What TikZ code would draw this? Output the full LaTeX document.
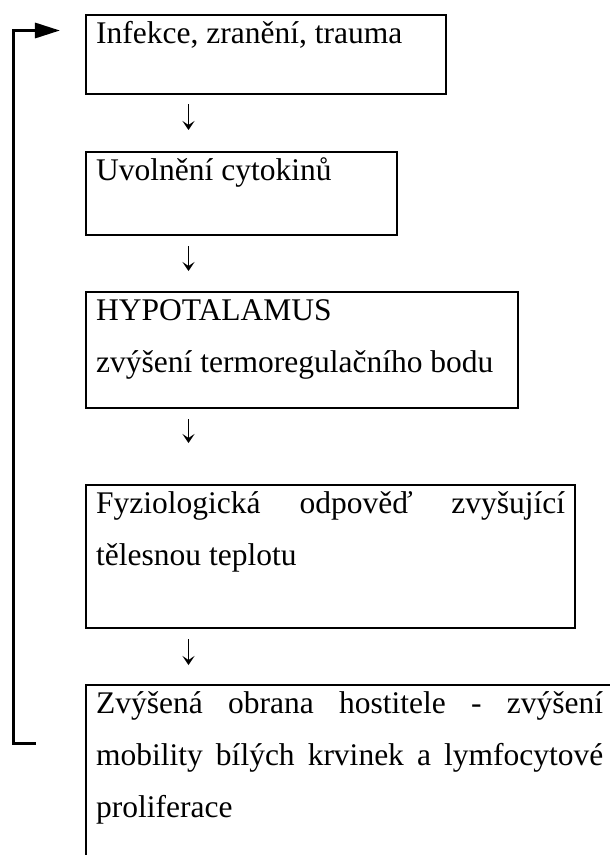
\documentclass[tikz,border=0pt]{standalone}
\usepackage{fontspec}
\setmainfont{Liberation Serif}
\usetikzlibrary{positioning,arrows.meta}
\tikzset{flow/.style={draw, line width=1.4bp, -{Stealth[length=9bp,width=12bp,inset=4bp]}}}
\tikzset{feedback/.style={draw, line width=3.2bp, line join=miter, -{Triangle[length=25bp,width=15bp]}}}
\newcommand{\boxbody}[2]{\parbox[c][#1][t]{\linewidth}{\rightskip=0pt\spaceskip=.25em plus 5em\tolerance=10000\hyphenpenalty=10000\rule{0pt}{28bp}#2}}

\begin{document}
\begin{tikzpicture}[x=1bp, y=-1bp, stepbox/.style = {draw, line width=2.4bp, anchor=north west, inner xsep=10bp, inner ysep=0pt, font=\fontsize{31.5bp}{52bp}\selectfont}]
\useasboundingbox (0,0) rectangle (610,855);
\node[stepbox, text width=340bp] (b1) at (85,14) {\boxbody{79bp}{Infekce, zranění, trauma}};
\node[stepbox, text width=291bp] (b2) at (85,151) {\boxbody{83bp}{Uvolnění cytokinů}};
\node[stepbox, text width=412bp] (b3) at (85,291) {\boxbody{116bp}{HYPOTALAMUS\\zvýšení termoregulačního bodu}};
\node[stepbox, text width=469bp] (b4) at (85,484) {\boxbody{143bp}{Fyziologická odpověď zvyšující\linebreak tělesnou teplotu}};
\node[stepbox, text width=507bp] (b5) at (85,684) {\boxbody{200bp}{Zvýšená obrana hostitele - zvýšení\linebreak mobility bílých krvinek a lymfocytové\linebreak proliferace}};
\coordinate (col) at (188.5,0);
\draw[flow, shorten <=9bp, shorten >=21bp] (b1.south -| col) -- (b2.north -| col);
\draw[flow, shorten <=10bp, shorten >=20bp] (b2.south -| col) -- (b3.north -| col);
\draw[flow, shorten <=10bp, shorten >=41bp] (b3.south -| col) -- (b4.north -| col);
\draw[flow, shorten <=10bp, shorten >=19bp] (b4.south -| col) -- (b5.north -| col);
% feedback loop
\draw[feedback, shorten <=49bp, shorten >=25bp] ([yshift=-59.5bp]b5.north west) -- ++(-71.5,0) |- ([yshift=-16.5bp]b1.north west);
\end{tikzpicture}
\end{document}
